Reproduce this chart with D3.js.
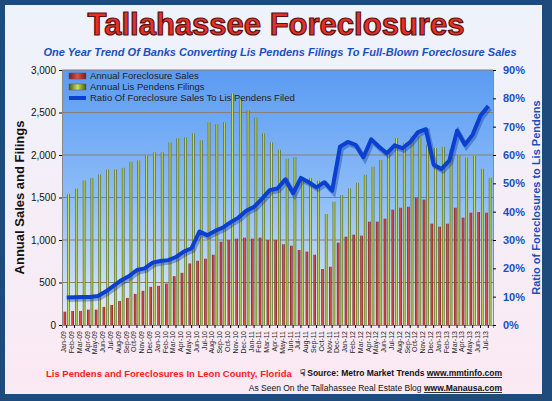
<!DOCTYPE html>
<html><head><meta charset="utf-8">
<script src="https://cdn.jsdelivr.net/npm/d3@7"></script>
<style>body{margin:0;background:#fff}svg{display:block;font-family:"Liberation Sans",Arial,sans-serif}</style>
</head><body><div id="chart"></div>
<script>
// Data
const months = ["Jan-09","Feb-09","Mar-09","Apr-09","May-09","Jun-09","Jul-09","Aug-09","Sep-09","Oct-09","Nov-09","Dec-09",
  "Jan-10","Feb-10","Mar-10","Apr-10","May-10","Jun-10","Jul-10","Aug-10","Sep-10","Oct-10","Nov-10","Dec-10",
  "Jan-11","Feb-11","Mar-11","Apr-11","May-11","Jun-11","Jul-11","Aug-11","Sep-11","Oct-11","Nov-11","Dec-11",
  "Jan-12","Feb-12","Mar-12","Apr-12","May-12","Jun-12","Jul-12","Aug-12","Sep-12","Oct-12","Nov-12","Dec-12",
  "Jan-13","Feb-13","Mar-13","Apr-13","May-13","Jun-13","Jul-13"];
const foreclosureSales = [157,165,165,181,181,213,236,283,319,366,402,449,
  461,488,575,614,724,756,780,827,980,1000,1016,1028,
  1016,1028,1000,1000,950,933,882,863,827,659,686,969,
  1039,1063,1051,1216,1216,1251,1357,1380,1392,1498,1475,1192,
  1157,1192,1380,1263,1322,1329,1322];
const lisPendens = [1543,1606,1701,1732,1772,1831,1831,1850,1921,1937,1996,2031,
  2031,2150,2197,2209,2256,2173,2386,2362,2386,2724,2654,2528,
  2441,2256,2150,2063,1957,1976,1737,1729,1698,1306,1451,1529,
  1608,1675,1769,1863,1941,2040,2200,2145,2224,2216,2122,2082,
  2098,2071,2000,1969,1988,1839,1733];
const ratio = [9.7,9.8,9.9,9.9,10.2,11.8,13.8,15.8,17.3,19.4,20,22,
  22.6,22.9,24,25.9,27.1,33,31.7,33.2,34.4,36.3,37.9,40.3,
  41.7,44.5,47.6,48.2,51.4,46.5,51.9,50.4,48.6,50.4,47.4,62.9,
  64.6,63.6,59.2,65.5,62.9,60.6,63.4,62.4,64.6,68.1,69.1,56.6,
  55.1,58,68.6,63.6,67.2,73.9,77.3];
const leftTicks = [0,500,1000,1500,2000,2500,3000];
const rightTicks = [0,10,20,30,40,50,60,70,80,90];

const W = 552, H = 401;
const margin = {top: 70, right: 59, bottom: 76, left: 62};
const cw = W - margin.left - margin.right, ch = H - margin.top - margin.bottom;

const svg = d3.select("#chart").append("svg").attr("width", W).attr("height", H);
const defs = svg.append("defs");
const bg = defs.append("linearGradient").attr("id","bg").attr("x1",0).attr("y1",0).attr("x2",0).attr("y2",1);
bg.append("stop").attr("offset","0").attr("stop-color","#eef3fb");
bg.append("stop").attr("offset","1").attr("stop-color","#fbe9f3");
const pg = defs.append("linearGradient").attr("id","pg").attr("x1",0).attr("y1",0).attr("x2",0).attr("y2",1);
pg.append("stop").attr("offset","0").attr("stop-color","#5b9bf2");
pg.append("stop").attr("offset","0.5").attr("stop-color","#8dbdf8");
pg.append("stop").attr("offset","1").attr("stop-color","#e6ecf8");
const rg = defs.append("linearGradient").attr("id","rg");
rg.append("stop").attr("offset","0").attr("stop-color","#7a1b14");
rg.append("stop").attr("offset","0.5").attr("stop-color","#e0504a");
rg.append("stop").attr("offset","1").attr("stop-color","#7a1b14");
const gg = defs.append("linearGradient").attr("id","gg");
gg.append("stop").attr("offset","0").attr("stop-color","#4a5a10");
gg.append("stop").attr("offset","0.5").attr("stop-color","#c8e060");
gg.append("stop").attr("offset","1").attr("stop-color","#4a5a10");

svg.append("rect").attr("width",W).attr("height",H).attr("fill","#1f4a7c");
svg.append("rect").attr("x",5).attr("y",5).attr("width",W-15).attr("height",H-12).attr("fill","url(#bg)");

svg.append("text").attr("x",276).attr("y",35).attr("text-anchor","middle")
  .attr("font-size",31).attr("font-weight","bold").attr("fill","#e8302a")
  .attr("stroke","#5a1010").attr("stroke-width",1.2).text("Tallahassee Foreclosures");
svg.append("text").attr("x",280).attr("y",56).attr("text-anchor","middle")
  .attr("font-size",11).attr("font-weight","bold").attr("font-style","italic").attr("fill","#1a4fc0")
  .text("One Year Trend Of Banks Converting Lis Pendens Filings To Full-Blown Foreclosure Sales");

const g = svg.append("g").attr("transform",`translate(${margin.left},${margin.top})`);
g.append("rect").attr("width",cw).attr("height",ch).attr("fill","url(#pg)");

const x = d3.scaleBand().domain(months).range([0,cw]).padding(0.2);
const y = d3.scaleLinear().domain([0,3000]).range([ch,0]);
const y2 = d3.scaleLinear().domain([0,90]).range([ch,0]);

g.selectAll(".grid").data(leftTicks.slice(1)).join("line")
  .attr("x1",0).attr("x2",cw).attr("y1",d=>y(d)).attr("y2",d=>y(d))
  .attr("stroke","#8a7f78").attr("stroke-width",1.2);

const bw = x.bandwidth()/2 - 0.5;
g.selectAll(".red").data(foreclosureSales).join("rect")
  .attr("x",(d,i)=>x(months[i])).attr("y",d=>y(d)).attr("width",bw).attr("height",d=>ch-y(d)).attr("fill","url(#rg)");
g.selectAll(".grn").data(lisPendens).join("rect")
  .attr("x",(d,i)=>x(months[i])+bw+1).attr("y",d=>y(d)).attr("width",bw).attr("height",d=>ch-y(d)).attr("fill","url(#gg)");

const line = d3.line().x((d,i)=>x(months[i])+x.bandwidth()/2).y(d=>y2(d));
g.append("path").datum(ratio).attr("d",line).attr("fill","none").attr("stroke","#0a2a90")
  .attr("stroke-width",5).attr("opacity",0.35).attr("transform","translate(1.5,2)");
g.append("path").datum(ratio).attr("d",line).attr("fill","none").attr("stroke","#0b3fd0")
  .attr("stroke-width",4).attr("stroke-linejoin","round");

// Axes
const ax = g.append("g").attr("transform",`translate(0,${ch})`).call(d3.axisBottom(x).tickSize(3));
ax.select(".domain").attr("stroke","#888");
ax.selectAll("text").attr("transform","rotate(-90)").attr("text-anchor","end")
  .attr("x",-6).attr("y",-3).attr("dy","0.35em").attr("font-size",7).attr("fill","#222");

const ay = g.append("g").call(d3.axisLeft(y).tickValues(leftTicks).tickFormat(d3.format(",")).tickSize(3));
ay.select(".domain").attr("stroke","#888");
ay.selectAll("text").attr("font-size",10).attr("fill","#111");

const ar = g.append("g").attr("transform",`translate(${cw},0)`)
  .call(d3.axisRight(y2).tickValues(rightTicks).tickFormat(d=>d+"%").tickSize(3));
ar.select(".domain").attr("stroke","#888");
ar.selectAll("text").attr("font-size",11).attr("font-weight","bold").attr("fill","#1a4fc0").attr("x",10);

svg.append("text").attr("transform",`translate(24,${margin.top+ch/2}) rotate(-90)`).attr("text-anchor","middle")
  .attr("font-size",13).attr("font-weight","bold").attr("fill","#111").text("Annual Sales and Filings");
svg.append("text").attr("transform",`translate(540,${margin.top+ch/2}) rotate(-90)`).attr("text-anchor","middle")
  .attr("font-size",11).attr("font-weight","bold").attr("fill","#1a4fc0").text("Ratio of Foreclosures to Lis Pendens");

// Legend
const lg = g.append("g").attr("transform","translate(7,6)");
const items = [["Annual Foreclosure Sales","url(#rg)"],["Annual Lis Pendens Filings","url(#gg)"],["Ratio Of Foreclosure Sales To Lis Pendens Filed","#0b3fd0"]];
items.forEach((it,i)=>{
  const row = lg.append("g").attr("transform",`translate(0,${i*11})`);
  if (i<2) row.append("rect").attr("y",-3).attr("width",17).attr("height",6).attr("fill",it[1]).attr("stroke","#555").attr("stroke-width",0.5);
  else row.append("line").attr("x2",17).attr("stroke",it[1]).attr("stroke-width",4);
  row.append("text").attr("x",21).attr("dy","0.35em").attr("font-size",9.5).attr("fill","#222").text(it[0]);
});

// Footer
svg.append("text").attr("x",46).attr("y",377).attr("font-size",9.5).attr("font-weight","bold").attr("fill","#ff1a1a")
  .text("Lis Pendens and Foreclosures In Leon County, Florida");
svg.append("text").attr("x",502).attr("y",376).attr("text-anchor","end").attr("font-size",8.5).attr("font-weight","bold").attr("fill","#111")
  .html('☟ Source: Metro Market Trends <tspan text-decoration="underline">www.mmtinfo.com</tspan>');
svg.append("text").attr("x",502).attr("y",391).attr("text-anchor","end").attr("font-size",8.5).attr("fill","#111")
  .html('As Seen On the Tallahassee Real Estate Blog <tspan font-weight="bold" text-decoration="underline">www.Manausa.com</tspan>');
</script></body></html>
